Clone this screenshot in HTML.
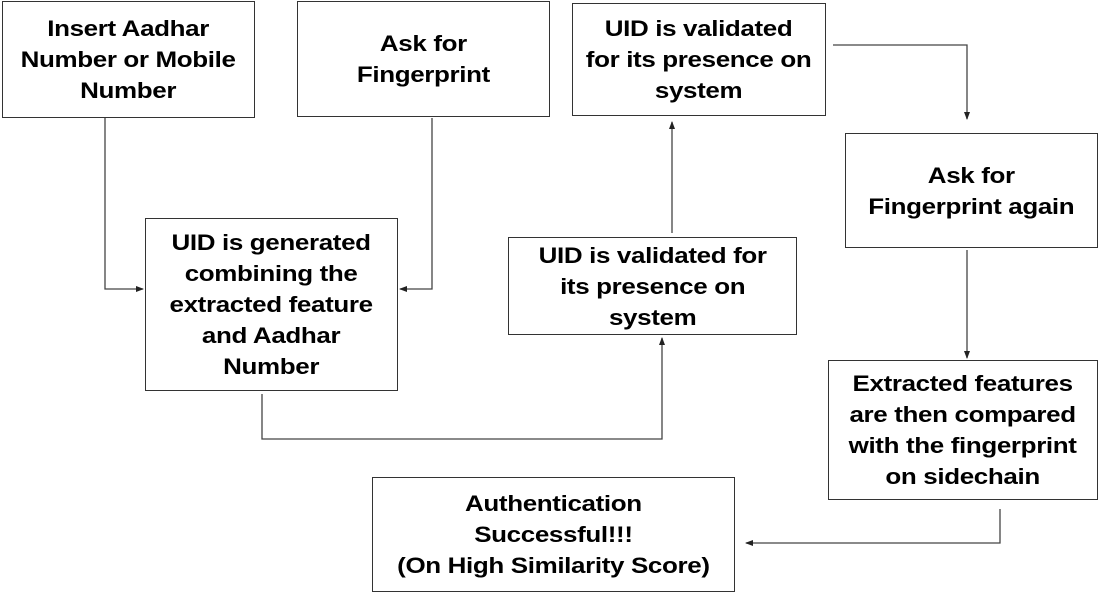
<!DOCTYPE html>
<html><head><meta charset="utf-8"><style>
body{margin:0;width:1099px;height:594px;background:#fff;position:relative;overflow:hidden;font-family:"Liberation Sans",Arial,sans-serif}
.b{position:absolute;box-sizing:border-box;border:1.5px solid #333;display:flex;align-items:center;justify-content:center;text-align:center;font-weight:bold;font-size:22px;line-height:31px;color:#000;white-space:nowrap}
.b span{display:inline-block;transform:scaleX(1.18);letter-spacing:-0.3px}
svg{position:absolute;left:0;top:0}
</style></head><body>
<svg width="1099" height="594">
<defs><marker id="a" markerWidth="8" markerHeight="8" refX="7" refY="4" orient="auto" markerUnits="userSpaceOnUse"><path d="M0,1 L8,4 L0,7 Z" fill="#222"/></marker></defs>
<g stroke="#444" stroke-width="1.3" fill="none">
<polyline points="105,118 105,289 143,289" marker-end="url(#a)"/>
<polyline points="432,118 432,289 400,289" marker-end="url(#a)"/>
<polyline points="262,394 262,439 662,439 662,338" marker-end="url(#a)"/>
<polyline points="672,233 672,122" marker-end="url(#a)"/>
<polyline points="833,45 967,45 967,119" marker-end="url(#a)"/>
<polyline points="967,250 967,358" marker-end="url(#a)"/>
<polyline points="1000,509 1000,543 746,543" marker-end="url(#a)"/>
</g></svg>
<div class="b" style="left:2px;top:1px;width:253px;height:117px"><span>Insert Aadhar<br>Number or Mobile<br>Number</span></div>
<div class="b" style="left:297px;top:1px;width:253px;height:116px"><span>Ask for<br>Fingerprint</span></div>
<div class="b" style="left:145px;top:218px;width:253px;height:173px"><span>UID is generated<br>combining the<br>extracted feature<br>and Aadhar<br>Number</span></div>
<div class="b" style="left:508px;top:237px;width:289px;height:98px"><span>UID is validated for<br>its presence on<br>system</span></div>
<div class="b" style="left:572px;top:3px;width:254px;height:113px"><span>UID is validated<br>for its presence on<br>system</span></div>
<div class="b" style="left:845px;top:133px;width:253px;height:115px"><span>Ask for<br>Fingerprint again</span></div>
<div class="b" style="left:828px;top:360px;width:270px;height:140px"><span>Extracted features<br>are then compared<br>with the fingerprint<br>on sidechain</span></div>
<div class="b" style="left:372px;top:477px;width:363px;height:115px"><span>Authentication<br>Successful!!!<br>(On High Similarity Score)</span></div>
</body></html>
